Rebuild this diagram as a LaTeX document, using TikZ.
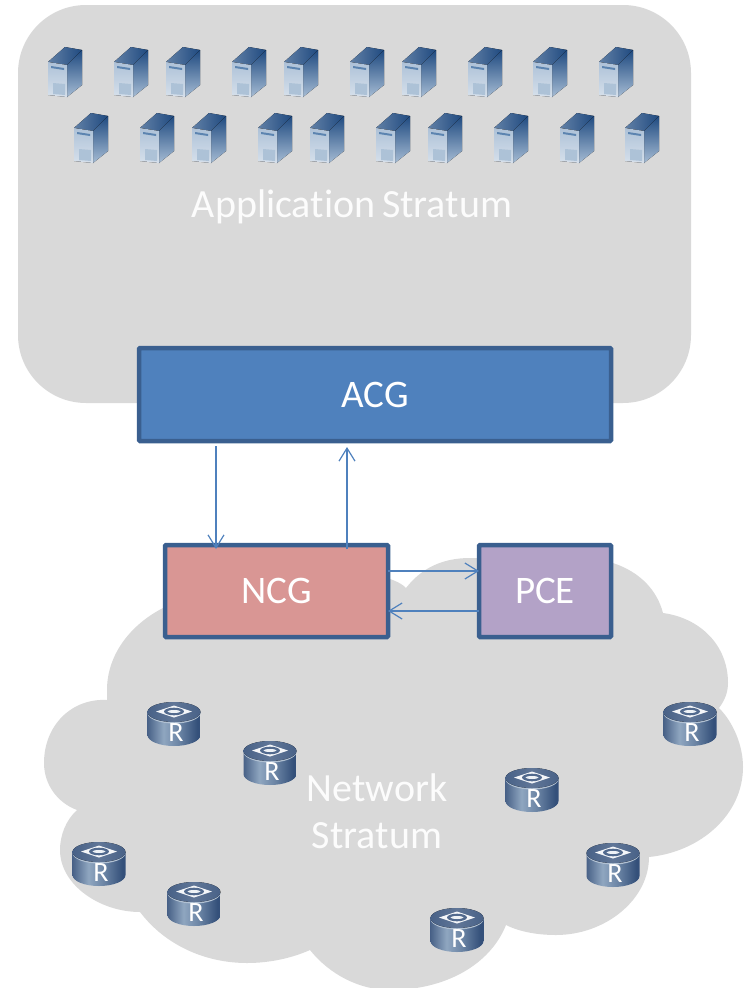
\documentclass[tikz,border=0pt]{standalone}
\usepackage{fontspec}
\setmainfont[Ligatures=NoCommon]{Carlito}
\usetikzlibrary{arrows.meta,calc}
\definecolor{cloudgray}{HTML}{D9D9D9}
\definecolor{edgeblue}{HTML}{3A5F8F}
\definecolor{acgfill}{HTML}{4F81BD}
\definecolor{ncgfill}{HTML}{D99694}
\definecolor{pcefill}{HTML}{B3A2C7}
\definecolor{srvdark}{HTML}{1F4A80}
\definecolor{srvmid}{HTML}{5C84B0}
\definecolor{rtdark}{HTML}{34507A}
\definecolor{rtlight}{HTML}{8FA6C0}
\pgfdeclarehorizontalshading{rtside}{100bp}{
  color(0bp)=(rtdark!90!white); color(25bp)=(rtdark!90!white); color(40bp)=(rtlight);
  color(55bp)=(rtlight!60!rtdark); color(72bp)=(rtdark); color(100bp)=(rtdark)}
\tikzset{
  x=1pt,y=-1pt,
  box/.style={draw=edgeblue,line width=4.5pt,rounded corners=1pt,text=white,font=\fontsize{39}{46}\selectfont,inner sep=0pt,outer sep=0pt,anchor=north west},
  link/.style={draw=acgfill,line width=1.2pt,-{Straight Barb[length=13pt,width=16pt,line width=1.2pt]}},
  caption/.style={text=white!92!cloudgray,font=\fontsize{40}{47}\selectfont,align=center,inner sep=0pt},
  server/.pic={
    \fill[left color=srvdark!70!white,right color=srvdark] (-17,-11) -- (2,-8) -- (17,-23) -- (0,-26) -- cycle;
    \fill[bottom color=srvmid!55!white,top color=srvdark] (2,-8) -- (17,-23) -- (17,12) -- (2,24) -- cycle;
    \fill[top color=white!50!srvmid,bottom color=srvmid!25!white] (-17,-11) -- (2,-8) -- (2,24) -- (-17,22) -- cycle;
    \fill[srvmid] (-14,-7) -- (-1,-5) -- (-1,-3) -- (-14,-5) -- cycle;
    \fill[srvmid!50!white] (-12,10) -- (0,11) -- (0,22) -- (-12,21) -- cycle;
  },
  router/.pic={
    \shade[shading=rtside]
      (-26.5,-12) -- (-26.5,11) arc[start angle=180,end angle=0,x radius=26.5,y radius=11] -- (26.5,-12) -- cycle;
    \fill[rtlight!70!white] (0,-11) ellipse[x radius=26.5,y radius=10.5];
    \fill[left color=rtdark!90!white,right color=rtdark!90!white,middle color=rtdark!78!white] (0,-12) ellipse[x radius=26.5,y radius=10];
    \fill[white!90!rtlight] (-18,-12.5) -- (0,-18.5) -- (18,-12.5) -- (0,-6.5) -- cycle;
    \fill[rtdark!85!white] (0,-12.5) ellipse[x radius=10,y radius=3.8];
    \fill[white!85!rtlight] (0,-12.5) ellipse[x radius=6.5,y radius=1.5];
    \node[text=white,inner sep=0pt,font=\fontsize{28}{28}\selectfont] (-label) at (2,9) {R};
  }
}
\begin{document}
\begin{tikzpicture}
\useasboundingbox (0,0) rectangle (746,988);
% application stratum
\fill[cloudgray,rounded corners=68pt] (18,5) rectangle (691,403);
% network cloud
\fill[cloudgray] (107,700)
  .. controls (72,698) and (44,725) .. (44,763)
  .. controls (44,785) and (58,803) .. (77,810)
  .. controls (66,820) and (60,835) .. (60,850)
  .. controls (60,885) and (100,912) .. (140,912)
  .. controls (165,945) and (205,963) .. (247,963)
  .. controls (270,963) and (292,958) .. (310,950)
  .. controls (330,975) and (360,990) .. (390,990)
  .. controls (445,990) and (490,965) .. (506,925)
  .. controls (520,932) and (538,935) .. (556,935)
  .. controls (605,935) and (649,900) .. (649,857)
  .. controls (700,852) and (743,815) .. (743,767)
  .. controls (743,745) and (733,722) .. (719,708)
  .. controls (725,700) and (728,692) .. (728,683)
  .. controls (728,645) and (700,618) .. (663,613)
  .. controls (657,590) and (640,572) .. (613,563)
  .. controls (590,555) and (560,555) .. (540,575)
  .. controls (520,565) and (495,558) .. (470,558)
  .. controls (440,558) and (420,570) .. (406,588)
  .. controls (385,565) and (260,560) .. (163,608)
  .. controls (130,625) and (107,655) .. (107,690)
  -- cycle;
% servers
\foreach \i/\x in {1/65,2/131,3/183,4/249,5/301,6/367,7/419,8/485,9/550,10/616}
  \pic (sa\i) at (\x,73) {server};
\foreach \i/\x in {1/91,2/157,3/209,4/275,5/327,6/393,7/445,8/511,9/577,10/642}
  \pic (sb\i) at (\x,139) {server};
% routers
\foreach \i/\x/\y in {1/174/724,2/270/763,3/690/724,4/532/790,5/99/864,6/194/904,7/613/865,8/457/930}
  \pic (r\i) at (\x,\y) {router};
% boxes
\node[box,fill=acgfill,minimum width=472pt,minimum height=93pt] (acg) at (139,348) {ACG};
\node[box,fill=ncgfill,minimum width=223pt,minimum height=92pt] (ncg) at (165,545) {NCG};
\node[box,fill=pcefill,minimum width=132pt,minimum height=92pt] (pce) at (479,545) {PCE};
% captions
\node[caption] (app) at (352,207) {Application\,Stratum};
\node[caption] (net) at (377,811) {Network\\Stratum};
% connectors
\coordinate (a1) at (216,446);
\coordinate (a2) at (216,549);
\coordinate (b1) at (347,549);
\coordinate (b2) at (347,447);
\coordinate (c1) at (388,571);
\coordinate (c2) at (479,571);
\coordinate (d1) at (479,611);
\coordinate (d2) at (388,611);
\draw[link] (a1) -- (a2);
\draw[link] (b1) -- (b2);
\draw[link] (c1) -- (c2);
\draw[link] (d1) -- (d2);
\end{tikzpicture}
\end{document}
